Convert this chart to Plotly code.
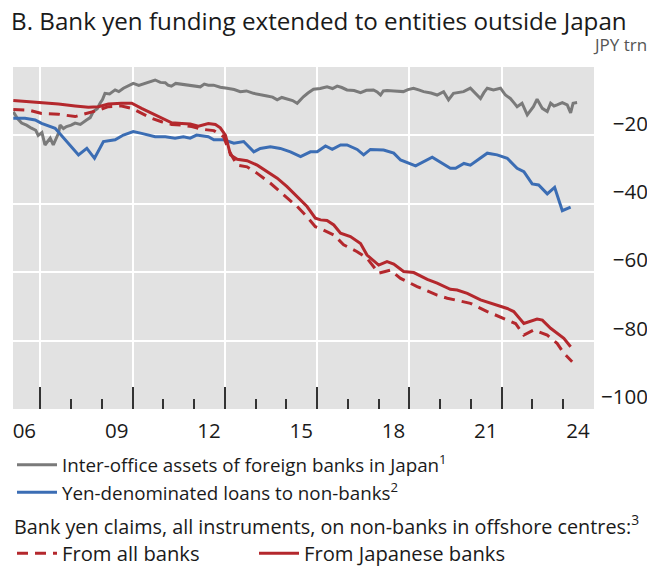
import plotly.graph_objects as go

# ---------------- data ----------------
# Inter-office assets of foreign banks in Japan (JPY trn)
gray_x = [2006.12, 2006.25, 2006.39, 2006.55, 2006.71, 2006.85, 2006.93, 2007.05, 2007.15,
          2007.25, 2007.32, 2007.42, 2007.52, 2007.59, 2007.64, 2007.75, 2007.85, 2008.0,
          2008.13, 2008.3, 2008.5, 2008.62, 2008.72, 2008.85, 2008.94, 2009.02, 2009.10,
          2009.25, 2009.43, 2009.55, 2009.70, 2009.85, 2010.02, 2010.2, 2010.40, 2010.55,
          2010.73, 2010.9, 2011.06, 2011.15, 2011.26, 2011.4, 2011.59, 2011.8, 2012.03,
          2012.20, 2012.33, 2012.46, 2012.63, 2012.85, 2013.07, 2013.3, 2013.50, 2013.7,
          2013.93, 2014.15, 2014.37, 2014.55, 2014.70, 2014.85, 2015.02, 2015.2, 2015.35,
          2015.45, 2015.55, 2015.7, 2015.88, 2016.1, 2016.32, 2016.5, 2016.65, 2016.8,
          2016.97, 2017.2, 2017.41, 2017.6, 2017.83, 2017.95, 2018.06, 2018.15, 2018.27,
          2018.5, 2018.71, 2018.80, 2018.95, 2019.13, 2019.3, 2019.46, 2019.7, 2019.90,
          2020.11, 2020.27, 2020.43, 2020.6, 2020.76, 2020.98, 2021.15, 2021.31, 2021.42,
          2021.53, 2021.73, 2021.96, 2022.12, 2022.28, 2022.40, 2022.50, 2022.66, 2022.83,
          2023.03, 2023.15, 2023.32, 2023.48, 2023.59, 2023.70, 2023.80, 2023.97, 2024.13,
          2024.24, 2024.32, 2024.45]
gray_y = [-13.1, -15.0, -16.4, -17.0, -17.9, -18.5, -20.0, -19.2, -22.8,
          -21.5, -20.8, -22.8, -21.0, -19.3, -17.0, -18.0, -17.4, -17.0,
          -16.4, -16.8, -15.5, -14.8, -13.0, -12.2, -10.6, -9.5, -7.7,
          -7.9, -6.7, -7.2, -6.2, -5.6, -4.8, -5.4, -4.8, -4.3,
          -3.8, -4.5, -4.6, -5.3, -5.6, -4.8, -5.0, -5.4, -5.6,
          -5.8, -5.0, -5.3, -5.3, -5.9, -6.2, -6.6, -7.2, -7.0,
          -7.7, -8.0, -8.5, -8.8, -9.6, -8.9, -9.4, -9.8, -10.6,
          -9.6, -8.7, -7.6, -6.5, -6.3, -5.8, -6.3, -5.6, -6.0,
          -6.7, -6.9, -7.5, -6.8, -6.7, -7.3, -8.2, -7.0, -6.9,
          -7.0, -7.2, -7.2, -6.6, -6.2, -6.7, -7.2, -7.6, -8.2,
          -7.2, -9.6, -7.7, -7.4, -7.2, -6.2, -7.7, -9.2, -7.5,
          -6.2, -6.7, -6.2, -8.2, -9.2, -10.5, -11.6, -10.6, -14.0,
          -11.6, -9.4, -12.1, -13.0, -10.6, -11.4, -11.1, -10.4, -11.1,
          -13.4, -10.6, -10.4]

# Yen-denominated loans to non-banks
blue_x = [2006.12, 2006.50, 2006.83, 2007.04, 2007.48, 2007.80, 2008.24, 2008.51, 2008.76,
          2009.05, 2009.43, 2009.70, 2010.02, 2010.29, 2010.73, 2011.06, 2011.38, 2011.65,
          2011.87, 2012.08, 2012.46, 2012.64, 2012.96, 2013.29, 2013.61, 2013.94, 2014.15,
          2014.48, 2014.80, 2015.13, 2015.46, 2015.78, 2016.00, 2016.27, 2016.49, 2016.76,
          2016.97, 2017.30, 2017.51, 2017.73, 2018.16, 2018.49, 2018.71, 2019.20, 2019.74,
          2020.33, 2020.50, 2020.77, 2020.98, 2021.53, 2021.85, 2022.18, 2022.50, 2022.72,
          2022.99, 2023.20, 2023.48, 2023.72, 2023.97, 2024.24]
blue_y = [-15.0, -15.0, -15.5, -16.5, -17.9, -21.3, -25.7, -23.8, -26.7,
          -21.8, -21.3, -19.9, -18.9, -19.4, -20.4, -20.4, -20.8, -20.4,
          -20.8, -19.9, -20.4, -21.3, -21.3, -22.3, -21.8, -24.8, -23.8,
          -23.3, -23.8, -24.8, -26.2, -24.8, -24.8, -23.1, -24.1, -22.8,
          -22.8, -24.1, -25.7, -24.1, -24.3, -25.2, -27.2, -28.9, -26.4,
          -29.6, -29.6, -28.2, -28.7, -25.2, -25.7, -26.7, -29.6, -30.6,
          -34.2, -34.5, -37.1, -35.2, -42.0, -41.0]

# Bank yen claims on non-banks in offshore centres: from all banks
all_x = [2006.12, 2006.61, 2007.04, 2007.59, 2008.13, 2008.56, 2008.89, 2009.21, 2009.64,
         2009.97, 2010.29, 2010.62, 2010.94, 2011.27, 2011.60, 2011.92, 2012.25, 2012.64,
         2012.96, 2013.12, 2013.40, 2013.72, 2014.05, 2014.48, 2014.91, 2015.35, 2015.67,
         2015.94, 2016.16, 2016.54, 2016.86, 2017.30, 2017.62, 2017.84, 2018.00, 2018.38,
         2018.71, 2019.25, 2019.90, 2020.23, 2020.66, 2020.98, 2021.53, 2022.18, 2022.45,
         2022.72, 2023.04, 2023.48, 2023.80, 2024.02, 2024.29]
all_y = [-12.4, -12.6, -13.6, -13.8, -14.5, -13.5, -12.6, -11.6, -11.4,
         -12.1, -13.5, -15.0, -16.0, -16.8, -17.0, -17.4, -18.2, -18.6,
         -20.4, -24.3, -28.7, -29.2, -31.1, -34.0, -37.4, -40.8, -43.8,
         -46.7, -47.5, -49.1, -52.0, -54.0, -55.9, -58.4, -60.3, -59.4,
         -61.8, -64.2, -66.7, -67.6, -68.4, -69.1, -71.5, -74.0, -75.0,
         -78.4, -76.9, -78.4, -80.8, -83.7, -86.2]

# From Japanese banks
jp_x = [2006.12, 2006.61, 2007.04, 2007.59, 2008.13, 2008.56, 2008.89, 2009.21, 2009.64,
        2009.97, 2010.29, 2010.62, 2010.94, 2011.27, 2011.60, 2011.87, 2012.14, 2012.46,
        2012.69, 2012.85, 2013.02, 2013.18, 2013.40, 2013.72, 2014.05, 2014.37, 2014.70,
        2015.02, 2015.35, 2015.67, 2015.94, 2016.11, 2016.32, 2016.54, 2016.76, 2017.08,
        2017.41, 2017.62, 2018.00, 2018.27, 2018.49, 2018.81, 2019.14, 2019.58, 2019.90,
        2020.33, 2020.55, 2020.88, 2021.31, 2021.74, 2022.18, 2022.39, 2022.72, 2023.15,
        2023.32, 2023.59, 2023.80, 2024.02, 2024.24]
jp_y = [-9.8, -10.1, -10.4, -10.8, -11.4, -11.8, -11.6, -10.8, -10.6,
        -10.6, -12.1, -13.5, -15.0, -16.3, -16.5, -16.7, -17.3, -16.5,
        -16.8, -17.8, -20.0, -25.7, -27.0, -27.4, -28.7, -30.6, -32.5,
        -35.0, -37.9, -40.8, -44.2, -44.7, -44.9, -46.2, -48.6, -49.6,
        -51.6, -55.0, -57.9, -56.9, -57.6, -59.8, -60.1, -62.1, -63.2,
        -65.0, -65.2, -66.2, -68.1, -69.3, -70.6, -71.5, -75.0, -73.7,
        -74.0, -76.4, -77.9, -79.3, -81.8]

major_ticks = [2007, 2010, 2013, 2016, 2019, 2022, 2025]
major_labels = ["06", "09", "12", "15", "18", "21", "24"]
minor_ticks = list(range(2007, 2026))
y_ticks = [-100, -80, -60, -40, -20]
y_labels = ["\u2212100", "\u2007\u221280", "\u2007\u221260", "\u2007\u221240", "\u2007\u221220"]

title_text = "B. Bank yen funding extended to entities outside Japan"
unit_text = "JPY trn"
group_title = "Bank yen claims, all instruments, on non-banks in offshore centres:<sup>3</sup>"

# ---------------- figure ----------------
# (the page adds an 8px body margin, so the figure is 8px smaller than the window)
W, H = 647, 559
FONT = "Open Sans"
GRAY = "#7a7a7a"
BLUE = "#3b6db4"
RED = "#b4282d"
TXT = "#1a1a1a"

fig = go.Figure()
fig.add_trace(go.Scatter(x=gray_x, y=gray_y, mode="lines",
                         name="Inter-office assets of foreign banks in Japan<sup>1</sup>",
                         line=dict(color=GRAY, width=3), legend="legend"))
fig.add_trace(go.Scatter(x=blue_x, y=blue_y, mode="lines",
                         name="Yen-denominated loans to non-banks<sup>2</sup>",
                         line=dict(color=BLUE, width=3), legend="legend"))
fig.add_trace(go.Scatter(x=all_x, y=all_y, mode="lines", name="From all banks",
                         line=dict(color=RED, width=3, dash="11px,7px"), legend="legend2"))
fig.add_trace(go.Scatter(x=jp_x, y=jp_y, mode="lines", name="From Japanese banks",
                         line=dict(color=RED, width=3), legend="legend2"))

fig.update_layout(
    width=W, height=H,
    margin=dict(l=5, r=61, t=59, b=158, autoexpand=False),
    paper_bgcolor="white", plot_bgcolor="#e2e2e2",
    font=dict(family=FONT, size=18, color=TXT),
    title=dict(text=title_text, xref="container", yref="container",
               x=3 / W, xanchor="left", y=1 - 13.5 / H, yanchor="middle",
               font=dict(family=FONT, size=24.2, color=TXT)),
    showlegend=True,
    legend=dict(xref="container", yref="container", x=4 / W, xanchor="left",
                y=1 - 438 / H, yanchor="top", orientation="v", itemwidth=40,
                font=dict(family=FONT, size=18.8, color=TXT),
                bgcolor="rgba(0,0,0,0)", borderwidth=0, tracegroupgap=0),
    legend2=dict(xref="container", yref="container", x=4 / W, xanchor="left",
                 y=1 - 500 / H, yanchor="top", orientation="h", itemwidth=40,
                 title=dict(text=group_title, side="top",
                            font=dict(family=FONT, size=19.8, color=TXT)),
                 font=dict(family=FONT, size=20.2, color=TXT),
                 entrywidth=187, entrywidthmode="pixels",
                 bgcolor="rgba(0,0,0,0)", borderwidth=0),
    xaxis=dict(range=[2006.11, 2025.0], tickvals=major_ticks, ticktext=major_labels,
               ticks="inside", ticklen=22, tickwidth=2, tickcolor="#333333",
               showgrid=True, gridcolor="white", gridwidth=2, zeroline=False,
               showline=False, ticklabelshift=-16, ticklabelstandoff=7, automargin=False,
               tickfont=dict(family=FONT, size=20.5, color=TXT),
               minor=dict(tickvals=minor_ticks, ticks="inside", ticklen=10, tickwidth=2,
                          tickcolor="#333333", showgrid=False)),
    yaxis=dict(range=[-100, 0], side="right", tickvals=y_ticks, ticktext=y_labels,
               automargin=False,
               showgrid=True, gridcolor="white", gridwidth=2, zeroline=False,
               showline=False, ticks="", ticklabelshift=-12, ticklabelstandoff=6,
               tickfont=dict(family=FONT, size=20.5, color=TXT)),
    annotations=[dict(text=unit_text, xref="paper", yref="paper", x=(641 - 5) / 581, y=1.0,
                      xanchor="right", yanchor="middle", yshift=23, showarrow=False,
                      font=dict(family=FONT, size=17, color="#555555"))],
)

fig.write_html("out.html")
